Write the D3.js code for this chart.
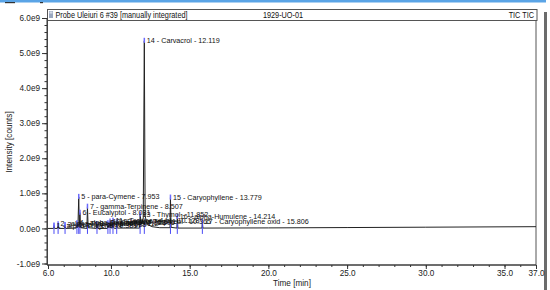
<!DOCTYPE html>
<html><head><meta charset="utf-8">
<script src="https://cdn.jsdelivr.net/npm/d3@7/dist/d3.min.js"></script>
<style>
html,body{margin:0;padding:0;background:#fff;}
svg{display:block;font-family:"Liberation Sans",Arial,sans-serif;}
</style></head>
<body>
<svg id="chart" width="550" height="290"></svg>
<script>
// ---- data ----
const headerLeft = "Probe Uleiuri 6 #39 [manually integrated]";
const headerMid = "1929-UO-01";
const headerRight = "TIC TIC";
const xTitle = "Time [min]";
const yTitle = "Intensity [counts]";
const xTickValues = [6, 10, 15, 20, 25, 30, 35, 37];
const xTickLabels = ["6.0", "10.0", "15.0", "20.0", "25.0", "30.0", "35.0", "37.0"];
const yTickValues = [-1e9, 0, 1e9, 2e9, 3e9, 4e9, 5e9, 6e9];
const yTickLabels = ["-1.0e9", "0.0e0", "1.0e9", "2.0e9", "3.0e9", "4.0e9", "5.0e9", "6.0e9"];

// peaks
const peakNumbers = [1, 2, 3, 4, 5, 6, 7, 8, 9, 10, 11, 12, 13, 14, 15, 16, 17];
const peakNames = ["alpha-Thujene", "alpha-Pinene", "beta-Myrcene", "alpha-Terpinene", "para-Cymene",
  "Eucalyptol", "gamma-Terpinene", "Linalool", "Camphor", "Borneol", "Terpinen-4-ol",
  "alpha-Terpineol", "Thymol", "Carvacrol", "Caryophyllene", "alpha-Humulene", "Caryophyllene oxid"];
const peakTimes = [6.381, 6.642, 7.083, 7.838, 7.953, 8.031, 8.507, 9.112, 9.806, 9.941, 10.128,
  10.365, 11.852, 12.119, 13.779, 14.214, 15.806];
const peakHeights = [0.08e9, 0.12e9, 0.10e9, 0.15e9, 0.90e9, 0.45e9, 0.62e9, 0.12e9, 0.15e9, 0.20e9,
  0.22e9, 0.18e9, 0.40e9, 5.35e9, 0.88e9, 0.33e9, 0.18e9];

// chromatogram trace (time, intensity)
const traceTime = [6.0, 6.35, 6.381, 6.42, 6.60, 6.642, 6.68, 7.05, 7.083, 7.12, 7.80, 7.838, 7.90, 7.953,
  7.99, 8.031, 8.07, 8.47, 8.507, 8.55, 9.08, 9.112, 9.15, 9.78, 9.806, 9.86, 9.941, 9.98, 10.10, 10.128,
  10.17, 10.34, 10.365, 10.40, 11.82, 11.852, 11.93, 12.05, 12.119, 12.17, 12.30, 12.60, 13.10, 13.75,
  13.779, 13.82, 14.19, 14.214, 14.25, 15.78, 15.806, 15.84, 20.0, 25.0, 30.0, 37.0];
const traceIntensity = [0.0, 0.0, 0.08e9, 0.0, 0.0, 0.12e9, 0.0, 0.0, 0.10e9, 0.0, 0.01e9, 0.15e9, 0.05e9,
  0.90e9, 0.10e9, 0.45e9, 0.02e9, 0.0, 0.62e9, 0.02e9, 0.0, 0.12e9, 0.0, 0.0, 0.15e9, 0.02e9, 0.20e9,
  0.02e9, 0.01e9, 0.22e9, 0.01e9, 0.0, 0.18e9, 0.01e9, 0.01e9, 0.40e9, 0.12e9, 0.3e9, 5.35e9, 0.35e9,
  0.12e9, 0.05e9, 0.02e9, 0.02e9, 0.88e9, 0.03e9, 0.01e9, 0.33e9, 0.01e9, 0.01e9, 0.18e9, 0.01e9,
  0.015e9, 0.025e9, 0.035e9, 0.05e9];

// ---- drawing ----
const svg = d3.select("#chart");
const x = d3.scaleLinear().domain([6, 37]).range([48, 536]);
const y = d3.scaleLinear().domain([-1e9, 6e9]).range([263.5, 18]);
const plotTop = 20.5, plotBottom = 265;

// window chrome
svg.append("rect").attr("x", 0).attr("y", 0).attr("width", 546).attr("height", 2.5).attr("fill", "#5aa4e6");
svg.append("rect").attr("x", 5).attr("y", 2).attr("width", 10).attr("height", 1.2).attr("fill", "#333");
svg.append("rect").attr("x", 40).attr("y", 2).attr("width", 3).attr("height", 1.2).attr("fill", "#333");
svg.append("rect").attr("x", 544).attr("y", 12).attr("width", 3).attr("height", 278).attr("fill", "#6b6b6b");

// header box
svg.append("rect").attr("x", 47.5).attr("y", 9.5).attr("width", 489.5).attr("height", 11)
  .attr("fill", "#fff").attr("stroke", "#555").attr("stroke-width", 1);
svg.append("rect").attr("x", 49).attr("y", 11).attr("width", 4).attr("height", 7).attr("fill", "#9aa8c0");
svg.append("rect").attr("x", 49.5).attr("y", 11.5).attr("width", 3).attr("height", 2).attr("fill", "#d7dde8");
function headerText(tx, anchor, str) {
  svg.append("text").attr("transform", "translate(" + tx + ",17.6) scale(0.88,1)")
    .attr("font-size", 8.3).attr("fill", "#111").attr("text-anchor", anchor).text(str);
}
headerText(55.5, "start", headerLeft);
headerText(283, "middle", headerMid);
headerText(534, "end", headerRight);

// plot frame
svg.append("rect").attr("x", 47.5).attr("y", plotTop).attr("width", 536 - 47.5).attr("height", plotBottom - plotTop)
  .attr("fill", "none").attr("stroke", "#555").attr("stroke-width", 1);

// y axis
const yMinor = d3.range(-1e9, 6e9 + 1, 0.2e9);
const yAxisMinor = d3.axisLeft(y).tickValues(yMinor).tickSize(2.5).tickFormat("");
const gyMinor = svg.append("g").attr("transform", "translate(47,0)").call(yAxisMinor);
gyMinor.select(".domain").remove();
gyMinor.selectAll("line").attr("stroke", "#333");
const yAxis = d3.axisLeft(y).tickValues(yTickValues).tickSize(5).tickPadding(2)
  .tickFormat((d, i) => yTickLabels[i]);
const gy = svg.append("g").attr("transform", "translate(47,0)").call(yAxis);
gy.select(".domain").attr("stroke", "#333").attr("d", "M0," + y(6e9) + "V" + plotBottom);
gy.selectAll("line").attr("stroke", "#333");
gy.selectAll("text").attr("font-size", 8.2).attr("fill", "#222").attr("font-family", "Liberation Sans, Arial, sans-serif");

// x axis
const xMinor = d3.range(6, 37.01, 1);
const xAxisMinor = d3.axisBottom(x).tickValues(xMinor).tickSize(2).tickFormat("");
const gxMinor = svg.append("g").attr("transform", "translate(0," + plotBottom + ")").call(xAxisMinor);
gxMinor.select(".domain").remove();
gxMinor.selectAll("line").attr("stroke", "#333");
const xAxis = d3.axisBottom(x).tickValues(xTickValues).tickSize(4).tickPadding(1)
  .tickFormat((d, i) => xTickLabels[i]);
const gx = svg.append("g").attr("transform", "translate(0," + plotBottom + ")").call(xAxis);
gx.select(".domain").attr("stroke", "#333").attr("d", "M47,0H536");
gx.selectAll("line").attr("stroke", "#333");
gx.selectAll("text").attr("font-size", 8.2).attr("fill", "#222").attr("font-family", "Liberation Sans, Arial, sans-serif");

// titles
svg.append("text").attr("x", 292).attr("y", 286).attr("text-anchor", "middle").attr("font-size", 8.2)
  .attr("fill", "#222").text(xTitle);
svg.append("text").attr("transform", "translate(11.5,142) rotate(-90)").attr("text-anchor", "middle")
  .attr("font-size", 8.2).attr("fill", "#222").text(yTitle);

// trace
const trace = traceTime.map((t, i) => [t, traceIntensity[i]]);
svg.append("path").datum(trace)
  .attr("fill", "none").attr("stroke", "#222").attr("stroke-width", 1)
  .attr("d", d3.line().x(d => x(d[0])).y(d => y(d[1])));

// peak delimiter marks (blue) near baseline
const blue = "#4b4bf5";
svg.append("g").selectAll("line").data(peakTimes).join("line")
  .attr("x1", d => x(d)).attr("x2", d => x(d))
  .attr("y1", y(0) - 5).attr("y2", y(0) + 5.5)
  .attr("stroke", blue).attr("stroke-width", 1);

// apex marks + labels
const peaks = peakTimes.map((t, i) => ({t, h: peakHeights[i], n: peakNumbers[i], name: peakNames[i]}));
svg.append("g").selectAll("line").data(peaks).join("line")
  .attr("x1", d => x(d.t)).attr("x2", d => x(d.t))
  .attr("y1", d => y(d.h) - 3).attr("y2", d => y(d.h) + 2)
  .attr("stroke", "#6a6aff").attr("stroke-width", 1.5);
svg.append("g").selectAll("text").data(peaks).join("text")
  .attr("x", d => x(d.t) + 2.5).attr("y", d => y(d.h) + 2.2)
  .attr("font-size", 7.2).attr("fill", "#111")
  .text(d => d.n + " - " + d.name + " - " + d.t.toFixed(3));
</script>
</body></html>
